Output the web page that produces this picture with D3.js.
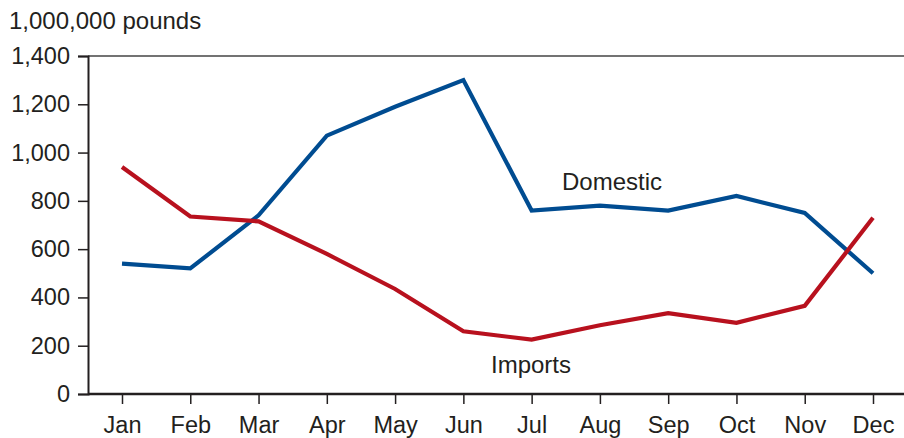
<!DOCTYPE html>
<html>
<head>
<meta charset="utf-8">
<script src="https://cdn.jsdelivr.net/npm/d3@7"></script>
<style>
  html, body { margin: 0; padding: 0; background: #fff; }
  svg { display: block; }
  text { font-family: "Liberation Sans", Arial, Helvetica, sans-serif; fill: #231f20; }
</style>
</head>
<body>
<svg id="chart" width="904" height="438"></svg>
<script>
const months = ["Jan","Feb","Mar","Apr","May","Jun","Jul","Aug","Sep","Oct","Nov","Dec"];
const domestic = [540, 520, 740, 1070, 1190, 1300, 760, 780, 760, 820, 750, 500];
const imports = [940, 735, 715, 580, 435, 260, 225, 285, 335, 295, 365, 730];
const yTicks = [0, 200, 400, 600, 800, 1000, 1200, 1400];
const unitLabel = "1,000,000 pounds";
const seriesNames = ["Domestic", "Imports"];

(function () {
const svg = d3.select("#chart");
const mLeft = 88, mRight = 904, mTop = 56, mBottom = 394;

const x = d3.scalePoint().domain(months).range([122, 873]);
const y = d3.scaleLinear().domain([0, 1400]).range([mBottom, mTop]);

// top border line
svg.append("line")
  .attr("x1", mLeft).attr("x2", mRight)
  .attr("y1", y(1400)).attr("y2", y(1400))
  .attr("stroke", "#444").attr("stroke-width", 1.5);

// y axis
const yAxis = svg.append("g")
  .attr("transform", `translate(${mLeft},0)`)
  .call(d3.axisLeft(y).tickValues(yTicks).tickSize(10).tickPadding(8)
    .tickFormat(d3.format(",")));
yAxis.select(".domain").attr("stroke", "#231f20").attr("stroke-width", 2);
yAxis.selectAll(".tick line").attr("stroke", "#231f20").attr("stroke-width", 1.5);
yAxis.selectAll(".tick text").style("font-size", "23.5px")
  .style("font-family", '"Liberation Sans", Arial, sans-serif').attr("fill", "#231f20");

// x axis
const xAxis = svg.append("g")
  .attr("transform", `translate(0,${mBottom})`)
  .call(d3.axisBottom(x).tickSize(10).tickPadding(12));
xAxis.select(".domain").attr("d", `M${mLeft},0H${mRight}`)
  .attr("stroke", "#231f20").attr("stroke-width", 2.5);
xAxis.selectAll(".tick line").attr("stroke", "#231f20").attr("stroke-width", 1.5);
xAxis.selectAll(".tick text").style("font-size", "23.5px")
  .style("font-family", '"Liberation Sans", Arial, sans-serif').attr("fill", "#231f20");

// unit label
svg.append("text").attr("x", 9).attr("y", 29)
  .style("font-size", "24px").text(unitLabel);

const line = d3.line().x((d, i) => x(months[i])).y(d => y(d));

svg.append("path").datum(domestic)
  .attr("d", line).attr("fill", "none")
  .attr("stroke", "#004c91").attr("stroke-width", 4.2)
  .attr("stroke-linejoin", "miter");

svg.append("path").datum(imports)
  .attr("d", line).attr("fill", "none")
  .attr("stroke", "#b8111e").attr("stroke-width", 4.2)
  .attr("stroke-linejoin", "miter");

// series labels
svg.append("text").attr("x", 612).attr("y", 190).attr("text-anchor", "middle")
  .style("font-size", "24px").text(seriesNames[0]);
svg.append("text").attr("x", 531).attr("y", 373).attr("text-anchor", "middle")
  .style("font-size", "24px").text(seriesNames[1]);
})();
</script>
</body>
</html>
